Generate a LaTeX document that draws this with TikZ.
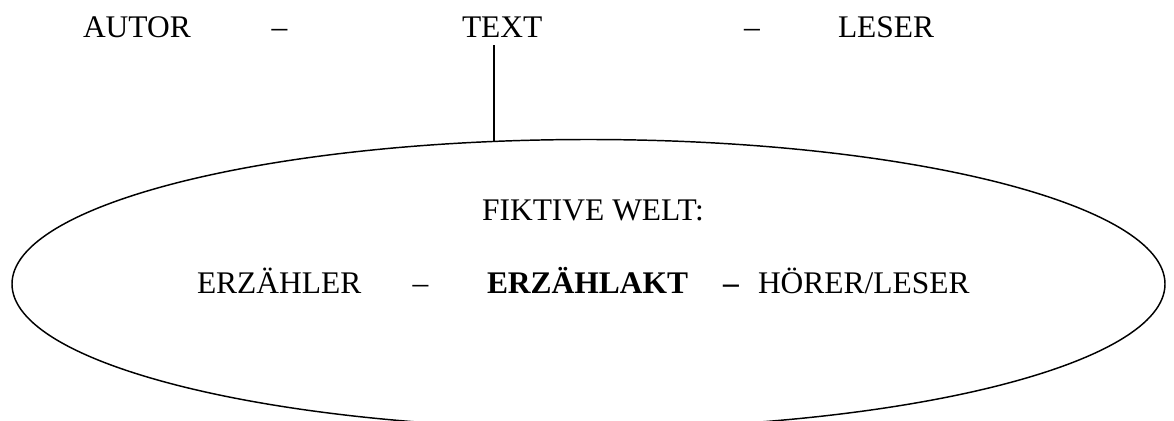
\documentclass[tikz,border=0pt]{standalone}
\usepackage{fontspec}
\setmainfont{Liberation Serif}
\usetikzlibrary{shapes.geometric}
\begin{document}
\begin{tikzpicture}[x=0.75pt,y=-0.75pt,
  lbl/.style={inner sep=0pt,outer sep=0pt,font=\fontsize{23.6}{28}\selectfont},
  lblb/.style={lbl,font=\fontsize{23.6}{28}\selectfont\bfseries},
  line/.style={draw=black,line width=1.1pt},
  welt/.style={ellipse,draw=black,line width=1.1pt,inner sep=0pt,outer sep=0pt,
    minimum width=864.75pt,minimum height=216.75pt}]
\useasboundingbox (0,0) rectangle (1174,421);
\clip (0,0) rectangle (1174,421);
% top row
\node[lbl,anchor=base west] (autor) at (83,37) {AUTOR};
\node[lbl,anchor=base] (d1) at (279.5,37) {–};
\node[lbl,anchor=base west] (text) at (462,37) {TEXT};
\node[lbl,anchor=base] (d2) at (752,37) {–};
\node[lbl,anchor=base west] (leser) at (838,37) {LESER};
% ellipse
\node[welt] (ell) at (588.5,284) {};
\coordinate (lt) at (494,45);
\coordinate (lb) at (494,141.5);
\draw[line] (lt) -- (lb);
% inside
\node[lbl,anchor=base] (fw) at (593,220) {FIKTIVE WELT:};
\node[lbl,anchor=base west] (erz) at (197,293) {ERZÄHLER};
\node[lbl,anchor=base] (d3) at (420.5,293) {–};
\node[lblb,anchor=base west] (akt) at (487,293) {ERZÄHLAKT};
\node[lblb,anchor=base] (d4) at (731,293) {–};
\node[lbl,anchor=base west] (hoer) at (758,293) {HÖRER/LESER};
\end{tikzpicture}
\end{document}
